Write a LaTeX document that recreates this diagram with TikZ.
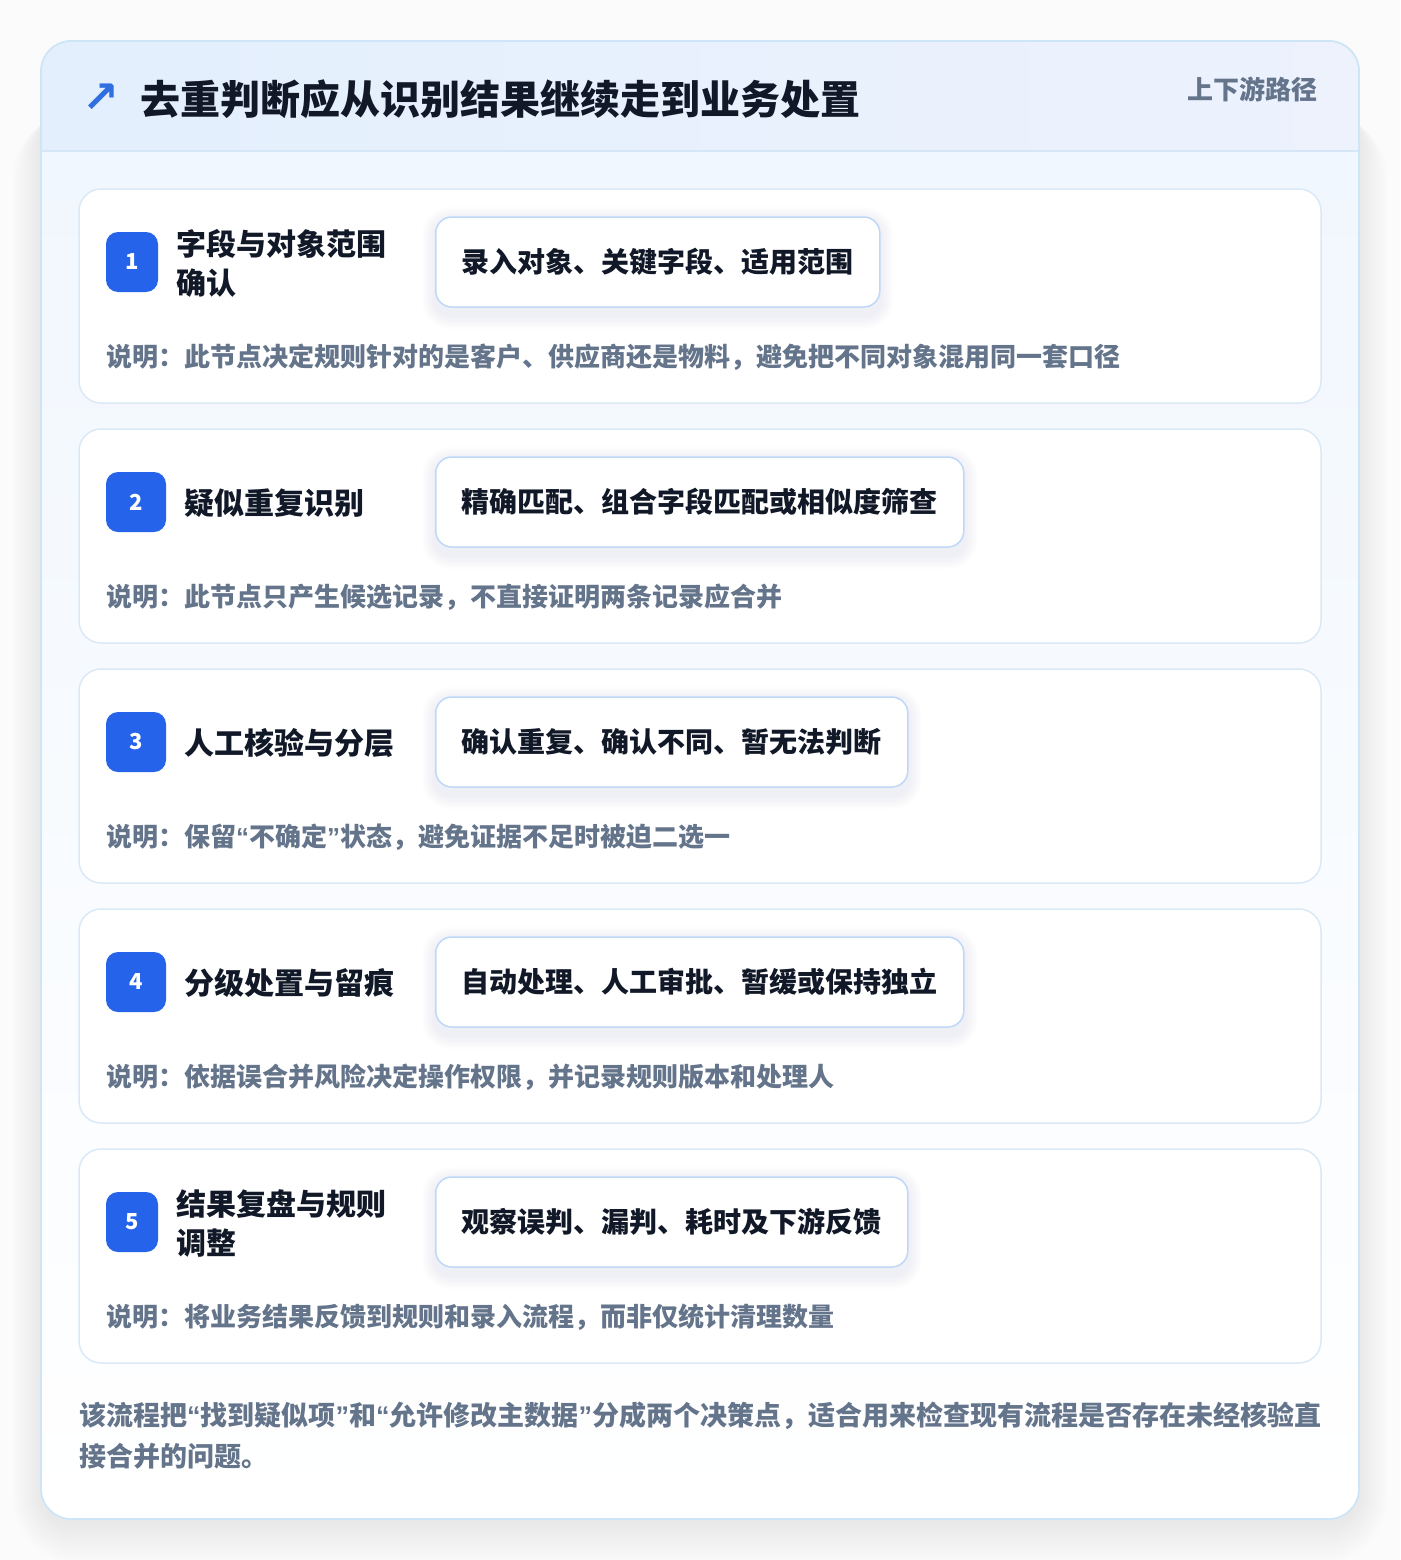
\documentclass[tikz,border=0pt]{standalone}
\usepackage{fontspec}
\setmainfont{Noto Sans CJK SC}
\newfontfamily\symfont{DejaVu Sans}
\newfontfamily\qfont{Liberation Sans}
\newcommand\openq{{\qfont\bfseries “}}
\newcommand\closeq{{\qfont\bfseries ”}}
\definecolor{pagebg}{HTML}{FBFBFC}
\definecolor{cardborder}{HTML}{CDE5F6}
\definecolor{hdrA}{HTML}{E3EFFD}
\definecolor{hdrB}{HTML}{EDF2FD}
\definecolor{hdrline}{HTML}{D5E7F7}
\definecolor{titlec}{HTML}{111827}
\definecolor{mutedc}{HTML}{64748B}
\definecolor{stepborder}{HTML}{DBE9F6}
\definecolor{badgec}{HTML}{2563EB}
\definecolor{pillborder}{HTML}{BFD8F7}
\definecolor{innerA}{HTML}{F1F7FE}
\definecolor{arrowc}{HTML}{2F6FE0}
\definecolor{shadowc}{HTML}{3A4150}
\definecolor{pshadowc}{HTML}{5B7BA8}
\tikzset{
  stepcard/.style={draw=stepborder, line width=1.5pt, fill=white, rounded corners=22pt},
  badgebox/.style={fill=badgec, rounded corners=12pt, minimum height=60pt, inner sep=0pt,
    text=white, font=\fontsize{22}{26}\selectfont\bfseries},
  steptitle/.style={anchor=west, inner sep=0pt, align=left, text=titlec,
    font=\fontsize{30}{39}\selectfont\bfseries},
  pillbox/.style={anchor=west, draw=pillborder, line width=1.5pt, fill=white, rounded corners=16pt,
    minimum height=90pt, inner xsep=26pt, inner ysep=0pt, text=titlec,
    font=\fontsize{28}{34}\selectfont\bfseries},
  desctext/.style={anchor=west, inner sep=0pt, text=mutedc, font=\fontsize{26}{31}\selectfont\bfseries},
}
% soft shadow behind a pill node
\newcommand\pillshadow[1]{%
  \foreach \k in {1,...,8}{%
    \fill[pshadowc, opacity=0.012, rounded corners=16pt+\k*1.5pt]
      ([xshift=-\k*1.6pt, yshift=-4pt+\k*1.6pt]#1.north west) rectangle ([xshift=\k*1.6pt, yshift=-8pt-\k*1.6pt]#1.south east);
  }%
}
\begin{document}
\begin{tikzpicture}[x=1pt,y=-1pt]
\useasboundingbox (0,0) rectangle (1400,1560);
\fill[pagebg] (0,0) rectangle (1400,1560);
% outer shadow
\foreach \k in {1,...,18}{
  \fill[shadowc, opacity=0.0055, rounded corners=30pt+\k*2pt]
    (41-\k*1.6, 110+\k*0.2) rectangle (1359+\k*1.6, 1524+\k*2.2);
}
% outer card
\fill[white, rounded corners=30pt] (41,41) rectangle (1359,1519);
\begin{scope}
\clip[rounded corners=30pt] (41,41) rectangle (1359,1519);
\shade[top color=innerA, bottom color=white] (41,151) rectangle (1359,1519);
\shade[left color=hdrA, right color=hdrB] (41,41) rectangle (1359,151);
\end{scope}
\draw[hdrline, line width=1.5pt] (41,151) -- (1359,151);
\draw[cardborder, line width=1.8pt, rounded corners=30pt] (41,41) rectangle (1359,1519);
% header
\node[inner sep=0pt, text=arrowc, font=\symfont\bfseries\fontsize{44}{44}\selectfont] (icon) at (101,98) {↗};
\node[anchor=west, inner sep=0pt, text=titlec, font=\fontsize{40}{48}\selectfont\bfseries] (title) at (140,99) {去重判断应从识别结果继续走到业务处置};
\node[anchor=east, inner sep=0pt, text=mutedc, font=\fontsize{26}{31}\selectfont\bfseries] (tag) at (1318,89) {上下游路径};
% step 1
\draw[stepcard] (79,189) rectangle (1321,403);
\node[badgebox, minimum width=52pt] (b1) at (132,262) {1};
\node[steptitle] (t1) at (176,263) {字段与对象范围\\确认};
\path node[pillbox, draw=none, fill=none, text opacity=0] (s1) at (435,262) {录入对象、关键字段、适用范围};
\pillshadow{s1}
\node[pillbox] (p1) at (435,262) {录入对象、关键字段、适用范围};
\node[desctext] (d1) at (106,357) {说明：此节点决定规则针对的是客户、供应商还是物料，避免把不同对象混用同一套口径};
% step 2
\draw[stepcard] (79,429) rectangle (1321,643);
\node[badgebox, minimum width=60pt] (b2) at (136,502) {2};
\node[steptitle] (t2) at (184,503) {疑似重复识别};
\path node[pillbox, draw=none, fill=none, text opacity=0] (s2) at (435,502) {精确匹配、组合字段匹配或相似度筛查};
\pillshadow{s2}
\node[pillbox] (p2) at (435,502) {精确匹配、组合字段匹配或相似度筛查};
\node[desctext] (d2) at (106,597) {说明：此节点只产生候选记录，不直接证明两条记录应合并};
% step 3
\draw[stepcard] (79,669) rectangle (1321,883);
\node[badgebox, minimum width=60pt] (b3) at (136,742) {3};
\node[steptitle] (t3) at (184,743) {人工核验与分层};
\path node[pillbox, draw=none, fill=none, text opacity=0] (s3) at (435,742) {确认重复、确认不同、暂无法判断};
\pillshadow{s3}
\node[pillbox] (p3) at (435,742) {确认重复、确认不同、暂无法判断};
\node[desctext] (d3) at (106,837) {说明：保留\openq 不确定\closeq 状态，避免证据不足时被迫二选一};
% step 4
\draw[stepcard] (79,909) rectangle (1321,1123);
\node[badgebox, minimum width=60pt] (b4) at (136,982) {4};
\node[steptitle] (t4) at (184,983) {分级处置与留痕};
\path node[pillbox, draw=none, fill=none, text opacity=0] (s4) at (435,982) {自动处理、人工审批、暂缓或保持独立};
\pillshadow{s4}
\node[pillbox] (p4) at (435,982) {自动处理、人工审批、暂缓或保持独立};
\node[desctext] (d4) at (106,1077) {说明：依据误合并风险决定操作权限，并记录规则版本和处理人};
% step 5
\draw[stepcard] (79,1149) rectangle (1321,1363);
\node[badgebox, minimum width=52pt] (b5) at (132,1222) {5};
\node[steptitle] (t5) at (176,1223) {结果复盘与规则\\调整};
\path node[pillbox, draw=none, fill=none, text opacity=0] (s5) at (435,1222) {观察误判、漏判、耗时及下游反馈};
\pillshadow{s5}
\node[pillbox] (p5) at (435,1222) {观察误判、漏判、耗时及下游反馈};
\node[desctext] (d5) at (106,1317) {说明：将业务结果反馈到规则和录入流程，而非仅统计清理数量};
% footer
\node[anchor=north west, inner sep=0pt, align=left, text=mutedc, font=\fontsize{27}{41}\selectfont\bfseries] (foot) at (79,1402)
  {该流程把\openq 找到疑似项\closeq 和\openq 允许修改主数据\closeq 分成两个决策点，适合用来检查现有流程是否存在未经核验直\\接合并的问题。};
\end{tikzpicture}
\end{document}
